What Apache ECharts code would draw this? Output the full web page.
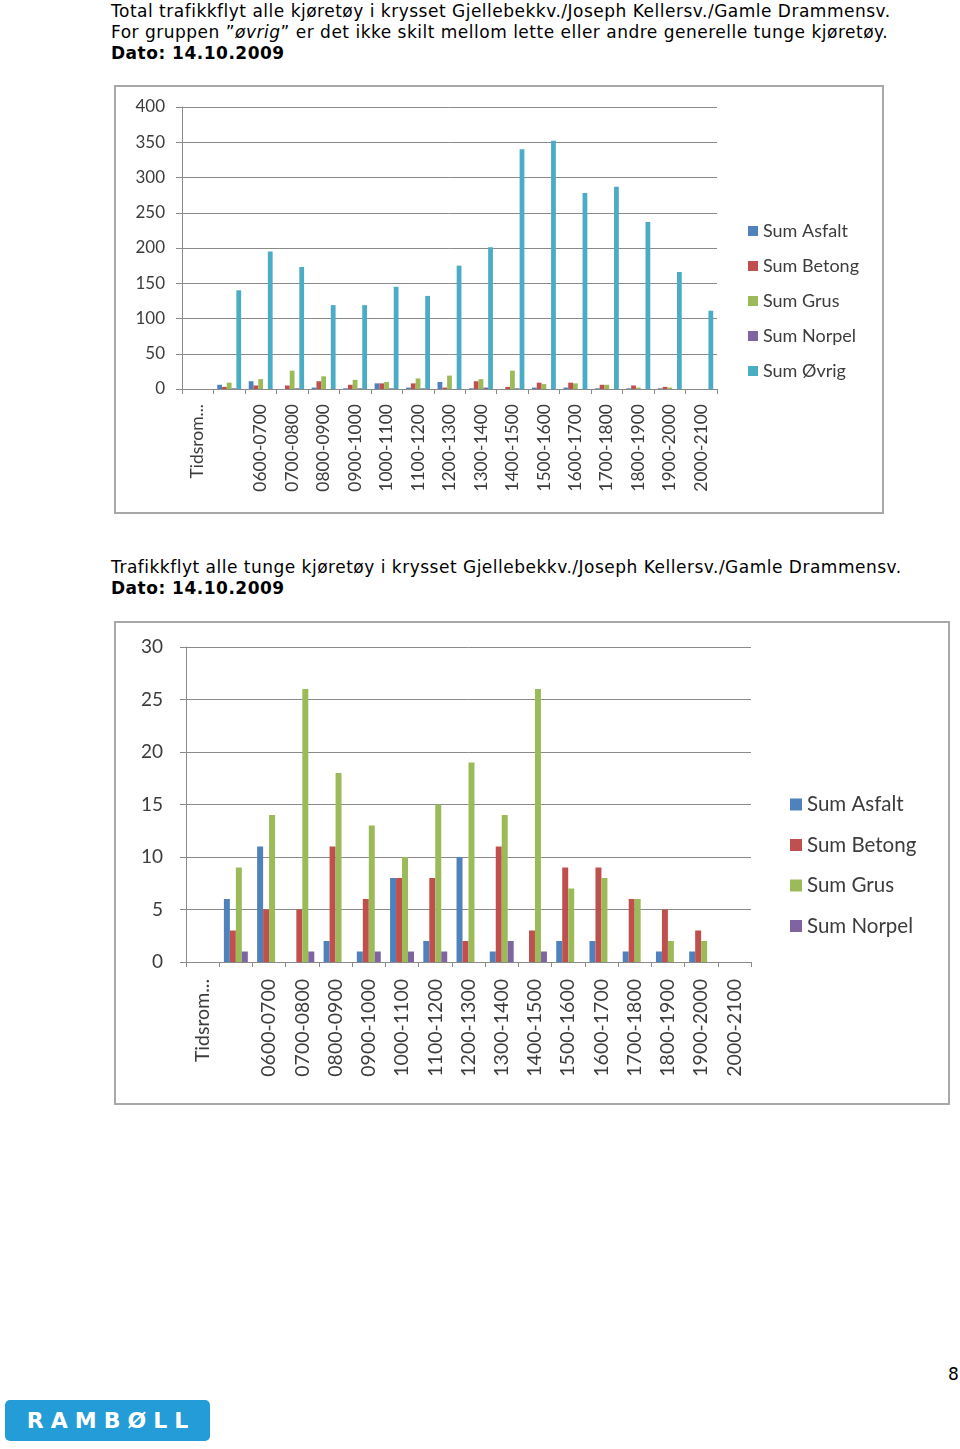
<!DOCTYPE html>
<html>
<head>
<meta charset="utf-8">
<script src="https://cdn.jsdelivr.net/npm/echarts@6/dist/echarts.min.js"></script>
<style>
  body { margin: 0; width: 960px; height: 1449px; background: #fff; position: relative; font-family: "DejaVu Sans", Verdana, sans-serif; color: #000; }
  .head { position: absolute; left: 111px; font-size: 17px; letter-spacing: 0.5px; line-height: 21px; white-space: nowrap; }
  .head b { font-weight: bold; }
  .box { position: absolute; border: 2px solid #a8a8a8; box-sizing: border-box; }
  #chart1 { left: 114px; top: 85px; width: 770px; height: 429px; }
  #chart2 { left: 114px; top: 621px; width: 836px; height: 484px; }
  .page { position: absolute; left: 948px; top: 1364px; font-size: 17px; }
  .logo { position: absolute; left: 5px; top: 1400px; width: 205px; height: 41px; background: #239cd8; border-radius: 5px;
          color: #fff; font: bold 22px "DejaVu Sans", sans-serif; letter-spacing: 7px; text-indent: 7px; line-height: 41px; text-align: center; }
</style>
</head>
<body>
<div class="head" style="top:1px">Total trafikkflyt alle kjøretøy i krysset Gjellebekkv./Joseph Kellersv./Gamle Drammensv.<br>For gruppen ”<i>øvrig</i>” er det ikke skilt mellom lette eller andre generelle tunge kjøretøy.<br><b>Dato: 14.10.2009</b></div>
<div class="box" id="chart1"></div>
<div class="head" style="top:557px">Trafikkflyt alle tunge kjøretøy i krysset Gjellebekkv./Joseph Kellersv./Gamle Drammensv.<br><b>Dato: 14.10.2009</b></div>
<div class="box" id="chart2"></div>
<div class="page">8</div>
<div class="logo">RAMBØLL</div>
<script>
// kategorier (andre plass har ingen etikett i originalen)
const categories = ['Tidsrom...', '', '0600-0700', '0700-0800', '0800-0900', '0900-1000', '1000-1100',
  '1100-1200', '1200-1300', '1300-1400', '1400-1500', '1500-1600', '1600-1700', '1700-1800',
  '1800-1900', '1900-2000', '2000-2100']
const asfalt = [null, 6, 11, 0, 2, 1, 8, 2, 10, 1, 0, 2, 2, 1, 1, 1, 0]
const betong = [null, 3, 5, 5, 11, 6, 8, 8, 2, 11, 3, 9, 9, 6, 5, 3, 0]
const grus = [null, 9, 14, 26, 18, 13, 10, 15, 19, 14, 26, 7, 8, 6, 2, 2, 0]
const norpel = [null, 1, 0, 1, 0, 1, 1, 1, 0, 2, 1, 0, 0, 0, 0, 0, 0]
const ovrig = [null, 140, 195, 173, 119, 119, 145, 132, 175, 201, 340, 352, 278, 287, 237, 166, 111]
const colors = ['#4f81bd', '#c0504d', '#9bbb59', '#8064a2', '#4bacc6']
const axisGray = '#8a8a8a'
const labelColor = '#3c3c3c'
const font = 'Lato'

function makeOption(o) {
  return {
    animation: false,
    color: colors,
    grid: o.grid,
    legend: {
      orient: 'vertical',
      left: o.legendLeft,
      top: o.legendTop,
      itemWidth: o.icon,
      itemHeight: o.icon,
      itemGap: o.legendGap,
      icon: 'rect',
      textStyle: { color: labelColor, fontSize: o.lfs, fontFamily: font, lineHeight: o.lfs }
    },
    xAxis: {
      type: 'category',
      data: categories,
      axisLine: { lineStyle: { color: axisGray } },
      axisTick: { show: true, length: 5, lineStyle: { color: axisGray } },
      axisLabel: { rotate: 90, interval: 0, margin: o.xMargin, color: labelColor, fontSize: o.xfs, fontFamily: font }
    },
    yAxis: {
      type: 'value',
      min: 0,
      max: o.max,
      interval: o.interval,
      axisLine: { show: true, lineStyle: { color: axisGray } },
      axisTick: { show: true, length: 6, lineStyle: { color: axisGray } },
      splitLine: { lineStyle: { color: axisGray } },
      axisLabel: { margin: o.yMargin, color: labelColor, fontSize: o.fs, fontFamily: font }
    },
    series: o.series.map(function (s, i) {
      return {
        name: s.name, type: 'bar', data: s.data,
        barGap: '0%', barCategoryGap: o.gap,
        itemStyle: { color: colors[i] }
      }
    })
  }
}

const chart1 = echarts.init(document.getElementById('chart1'))
chart1.setOption(makeOption({
  grid: { left: 66, right: 165, top: 20, bottom: 123 },
  legendLeft: 627, legendTop: 130, icon: 10, legendGap: 17, fs: 17, lfs: 18, xfs: 17.5,
  xMargin: 15, yMargin: 17, max: 400, interval: 50, gap: '24%',
  series: [
    { name: 'Sum Asfalt', data: asfalt },
    { name: 'Sum Betong', data: betong },
    { name: 'Sum Grus', data: grus },
    { name: 'Sum Norpel', data: norpel },
    { name: 'Sum Øvrig', data: ovrig }
  ]
}))

const chart2 = echarts.init(document.getElementById('chart2'))
chart2.setOption(makeOption({
  grid: { left: 70, right: 197, top: 24, bottom: 141 },
  legendLeft: 669, legendTop: 166, icon: 12, legendGap: 19.5, fs: 19, lfs: 20.5, xfs: 19.5,
  xMargin: 17, yMargin: 23, max: 30, interval: 5, gap: '28%',
  series: [
    { name: 'Sum Asfalt', data: asfalt },
    { name: 'Sum Betong', data: betong },
    { name: 'Sum Grus', data: grus },
    { name: 'Sum Norpel', data: norpel }
  ]
}))
</script>
</body>
</html>
